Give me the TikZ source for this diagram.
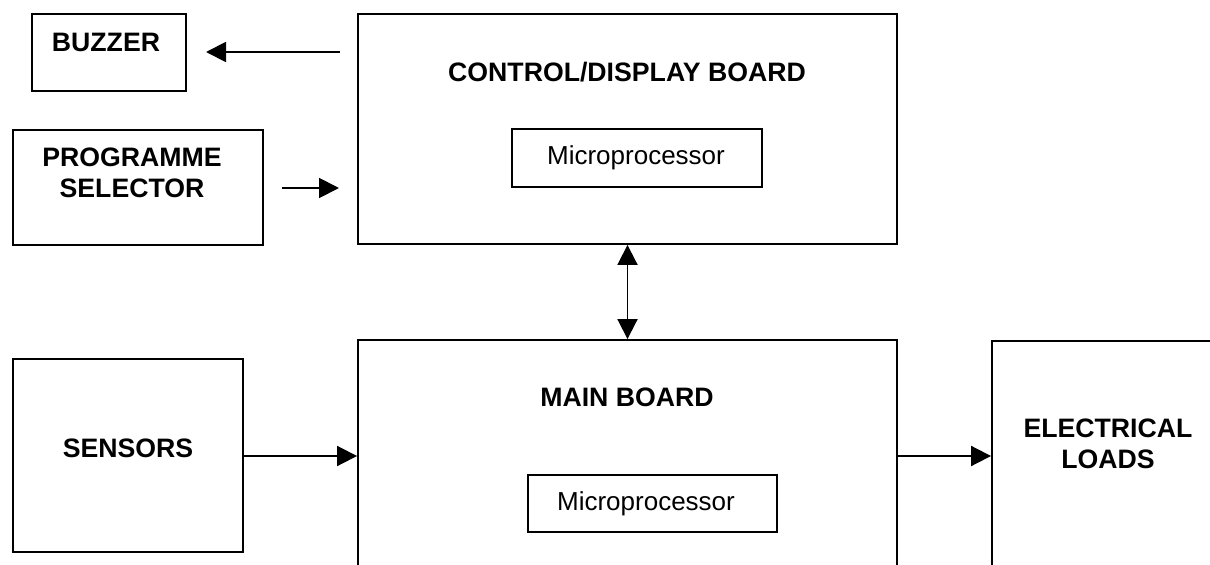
\documentclass[tikz,border=0pt]{standalone}
\usepackage{fontspec}
\setmainfont{Liberation Sans}
\usetikzlibrary{arrows.meta}
\begin{document}
\begin{tikzpicture}[x=0.75pt,y=-0.75pt,
  blk/.style={draw=black,line width=1.4pt,rectangle,inner sep=0pt},
  lbl/.style={font=\fontsize{20}{23.25}\selectfont\bfseries,align=center,inner sep=0pt},
  mlbl/.style={font=\fontsize{19.5}{23}\selectfont,inner sep=0pt},
  conn/.style={line width=1.4pt,-{Triangle[length=15pt,width=15pt]}},
  conn2/.style={line width=1.4pt,{Triangle[length=15pt,width=15pt]}-{Triangle[length=15pt,width=15pt]}}]
\useasboundingbox (0,0) rectangle (1210,564);
\clip (0,0) rectangle (1210,564);
% boxes
\node[blk,minimum width=154*0.75pt,minimum height=77*0.75pt] (buzzer) at (109,52.5) {};
\node[lbl] (buzzert) at (106,42) {BUZZER};
\node[blk,minimum width=250*0.75pt,minimum height=115*0.75pt] (prog) at (138,187.5) {};
\node[lbl] (progt) at (132,172.5) {PROGRAMME\\SELECTOR};
\node[blk,minimum width=539*0.75pt,minimum height=230*0.75pt] (ctrl) at (627.5,129) {};
\node[lbl] (ctrlt) at (627,72) {CONTROL/DISPLAY BOARD};
\node[blk,minimum width=250*0.75pt,minimum height=58*0.75pt] (mp1) at (637,158) {};
\node[mlbl] (mp1t) at (636,158) {Microprocessor};
\node[blk,minimum width=539*0.75pt,minimum height=260*0.75pt] (main) at (627.5,470) {};
\node[lbl] (maint) at (627,397) {MAIN BOARD};
\node[blk,minimum width=249*0.75pt,minimum height=57*0.75pt] (mp2) at (652.5,503.5) {};
\node[mlbl] (mp2t) at (646,503.5) {Microprocessor};
\node[blk,minimum width=230*0.75pt,minimum height=193*0.75pt] (sens) at (128,455.5) {};
\node[lbl] (senst) at (128,448) {SENSORS};
\node[blk,minimum width=260*0.75pt,minimum height=260*0.75pt] (loads) at (1122,471) {};
\node[lbl] (loadst) at (1108,443.5) {ELECTRICAL\\LOADS};
% connector ends
\coordinate (bzA) at (340,52);
\coordinate (bzB) at (206,52);
\coordinate (pgA) at (282,188);
\coordinate (pgB) at (339,188);
\coordinate (ldA) at (897,456);
% connectors
\draw[conn] (bzA) -- (bzB);
\draw[conn] (pgA) -- (pgB);
\draw[conn2] (ctrl.south) -- (main.north);
\draw[conn] (sens.east |- ldA) -- (main.west |- ldA);
\draw[conn] (main.east |- ldA) -- (loads.west |- ldA);
\end{tikzpicture}
\end{document}
